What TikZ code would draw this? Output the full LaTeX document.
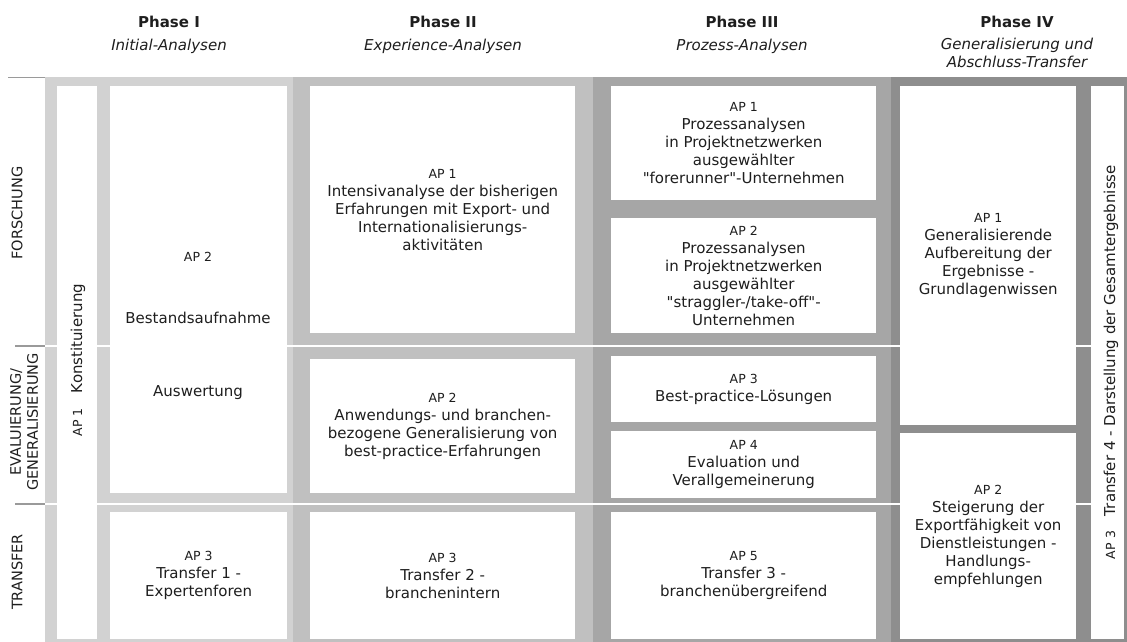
\documentclass[tikz,border=0pt]{standalone}
\usepackage{fontspec}
\setmainfont{DejaVu Sans}
\definecolor{bandA}{HTML}{D2D2D2}
\definecolor{bandB}{HTML}{C0C0C0}
\definecolor{bandC}{HTML}{A6A6A6}
\definecolor{bandD}{HTML}{8E8E8E}
\definecolor{rule}{HTML}{9A9A9A}
\definecolor{txt}{HTML}{1E1E1E}
\newcommand{\apf}{\fontsize{12.5}{14}\selectfont}
\begin{document}
\begin{tikzpicture}[x=1pt,y=-1pt,
  wbox/.style={fill=white, draw=none, inner sep=0pt, anchor=north west, align=center,
    font=\fontsize{15}{18}\selectfont, text=txt},
  lbl/.style={inner sep=0pt, text=txt, font=\fontsize{15}{18}\selectfont},
  side/.style={inner sep=0pt, text=txt, rotate=90, align=center, font=\fontsize{14.5}{17}\selectfont},
  head/.style={inner sep=0pt, anchor=base, text=txt, font=\fontsize{15}{18}\selectfont\bfseries},
  sub/.style={inner sep=0pt, anchor=base, text=txt, font=\fontsize{15}{18}\selectfont\itshape},
  sep/.style={white, line width=1.5pt},
  grule/.style={rule, line width=1.5pt}]
\useasboundingbox (0,0) rectangle (1127,642);
\fill[white] (0,0) rectangle (1127,642);
% headers
\node[head] (h1) at (169,28) {Phase I};
\node[sub]  (s1) at (169,51) {Initial-Analysen};
\node[head] (h2) at (443,28) {Phase II};
\node[sub]  (s2) at (443,51) {Experience-Analysen};
\node[head] (h3) at (742,28) {Phase III};
\node[sub]  (s3) at (742,51) {Prozess-Analysen};
\node[head] (h4) at (1017,28) {Phase IV};
\node[sub]  (s4a) at (1017,50) {Generalisierung und};
\node[sub]  (s4b) at (1017,67) {Abschluss-Transfer};
% bands
\fill[bandA] (45,77) rectangle (293,642);
\fill[bandB] (293,77) rectangle (593,642);
\fill[bandC] (593,77) rectangle (891,642);
\fill[bandD] (891,77) rectangle (1127,642);
% separators
\draw[sep] (45,346) -- (1124,346);
\draw[sep] (45,504) -- (1124,504);
\draw[grule] (8,77.5) -- (45,77.5);
\draw[grule] (15,346) -- (45,346);
\draw[grule] (15,504) -- (45,504);
% left labels
\node[side] (forsch) at (17,213) {FORSCHUNG};
\node[side] (evgen) at (24,422) {EVALUIERUNG/\\GENERALISIERUNG};
\node[side] (trans) at (17,572) {TRANSFER};
% Phase I
\node[wbox, minimum width=40pt, minimum height=553pt] (konst) at (57,86) {};
\node[lbl, rotate=90, anchor=base] (konstt) at (82,360) {{\apf AP 1}\hspace{15pt}Konstituierung};
\node[wbox, minimum width=177pt, minimum height=407pt] (p1a2) at (110,86) {};
\node[lbl, font=\apf] (p1a2n) at (198,257) {AP 2};
\node[lbl] (p1a2b) at (198,318) {Bestandsaufnahme};
\node[lbl] (p1a2c) at (198,393) {Auswertung};
\node[wbox, minimum width=177pt, minimum height=127pt] (p1a3) at (110,512)
  {{\apf AP 3}\\Transfer 1 -\\Expertenforen};
% Phase II
\node[wbox, minimum width=265pt, minimum height=247pt] (p2a1) at (310,86)
  {{\apf AP 1}\\Intensivanalyse der bisherigen\\Erfahrungen mit Export- und\\Internationalisierungs-\\aktivitäten};
\node[wbox, minimum width=265pt, minimum height=134pt] (p2a2) at (310,359)
  {{\apf AP 2}\\Anwendungs- und branchen-\\bezogene Generalisierung von\\best-practice-Erfahrungen};
\node[wbox, minimum width=265pt, minimum height=127pt] (p2a3) at (310,512)
  {{\apf AP 3}\\Transfer 2 -\\branchenintern};
% Phase III
\node[wbox, minimum width=265pt, minimum height=114pt] (p3a1) at (611,86)
  {{\apf AP 1}\\Prozessanalysen\\in Projektnetzwerken\\ausgewählter\\\textquotedbl forerunner\textquotedbl-Unternehmen};
\node[wbox, minimum width=265pt, minimum height=115pt] (p3a2) at (611,218)
  {{\apf AP 2}\\Prozessanalysen\\in Projektnetzwerken\\ausgewählter\\\textquotedbl straggler-/take-off\textquotedbl-\\Unternehmen};
\node[wbox, minimum width=265pt, minimum height=66pt] (p3a3) at (611,356)
  {{\apf AP 3}\\Best-practice-Lösungen};
\node[wbox, minimum width=265pt, minimum height=67pt] (p3a4) at (611,431)
  {{\apf AP 4}\\Evaluation und\\Verallgemeinerung};
\node[wbox, minimum width=265pt, minimum height=127pt] (p3a5) at (611,512)
  {{\apf AP 5}\\Transfer 3 -\\branchenübergreifend};
% Phase IV
\node[wbox, minimum width=176pt, minimum height=339pt] (p4a1) at (900,86)
  {{\apf AP 1}\\Generalisierende\\Aufbereitung der\\Ergebnisse -\\Grundlagenwissen};
\node[wbox, minimum width=176pt, minimum height=206pt] (p4a2) at (900,433)
  {{\apf AP 2}\\Steigerung der\\Exportfähigkeit von\\Dienstleistungen -\\Handlungs-\\empfehlungen};
\node[wbox, minimum width=33pt, minimum height=553pt] (p4s) at (1091,86) {};
\node[lbl, rotate=90, anchor=base] (p4st) at (1115,362) {{\apf AP 3}\hspace{15pt}Transfer 4 - Darstellung der Gesamtergebnisse};
\end{tikzpicture}
\end{document}
